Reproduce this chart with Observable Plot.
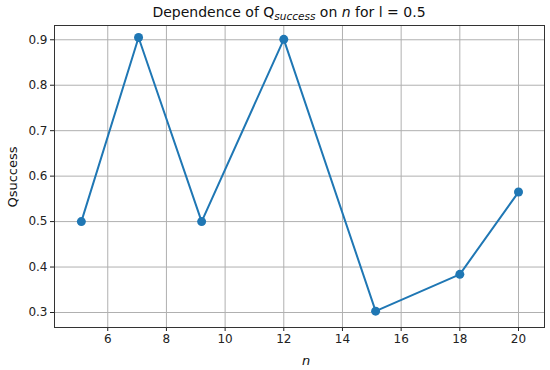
<!DOCTYPE html>
<html><head><meta charset="utf-8">
<script src="https://cdn.jsdelivr.net/npm/d3@7"></script>
<script src="https://cdn.jsdelivr.net/npm/@observablehq/plot@0.6"></script>
<style>body{margin:0;background:#fff} svg{font-family:"DejaVu Sans",sans-serif}</style>
</head><body><div id="chart"></div>
<script>
const nValues = [5.1, 7.05, 9.2, 12, 15.13, 18, 20];
const qValues = [0.5, 0.905, 0.5, 0.901, 0.303, 0.384, 0.565];
const xTicks = [6, 8, 10, 12, 14, 16, 18, 20];
const yTicks = [0.3, 0.4, 0.5, 0.6, 0.7, 0.8, 0.9];
const data = nValues.map((n, i) => ({n, q: qValues[i]}));

const chart = Plot.plot({
  width: 550, height: 370,
  marginLeft: 54, marginRight: 6, marginTop: 25, marginBottom: 43,
  style: {fontFamily: "DejaVu Sans", fontSize: "12px", color: "#222", background: "white"},
  x: {domain: [4.185, 20.886], ticks: xTicks, tickSize: 4, tickPadding: 3, label: null},
  y: {domain: [0.267, 0.9314], ticks: yTicks, tickSize: 4, tickPadding: 3, label: null, tickFormat: ".1f"},
  marks: [
    Plot.gridX(xTicks, {stroke: "#b0b0b0", strokeOpacity: 1, strokeWidth: 1}),
    Plot.gridY(yTicks, {stroke: "#b0b0b0", strokeOpacity: 1, strokeWidth: 1}),
    Plot.frame({stroke: "#333", strokeWidth: 1}),
    Plot.line(data, {x: "n", y: "q", stroke: "#1f77b4", strokeWidth: 2}),
    Plot.dot(data, {x: "n", y: "q", r: 4.5, fill: "#1f77b4", stroke: "none"})
  ]
});
document.getElementById("chart").appendChild(chart);

const svg = d3.select(chart);
const title = svg.append("text")
  .attr("x", 289).attr("y", 17)
  .attr("text-anchor", "middle")
  .attr("font-size", 14).attr("fill", "#111");
title.append("tspan").text("Dependence of Q");
title.append("tspan").attr("font-style", "italic").attr("font-size", 10.5).attr("dy", 3).text("success");
title.append("tspan").attr("dy", -3).text(" on ");
title.append("tspan").attr("font-style", "italic").text("n");
title.append("tspan").text(" for l = 0.5");

svg.append("text")
  .attr("transform", "translate(17,177) rotate(-90)")
  .attr("text-anchor", "middle").attr("font-size", 13).attr("fill", "#111")
  .text("Qsuccess");

svg.append("text")
  .attr("x", 306).attr("y", 365)
  .attr("text-anchor", "middle").attr("font-size", 13)
  .attr("font-style", "italic").attr("fill", "#111")
  .text("n");
</script></body></html>
